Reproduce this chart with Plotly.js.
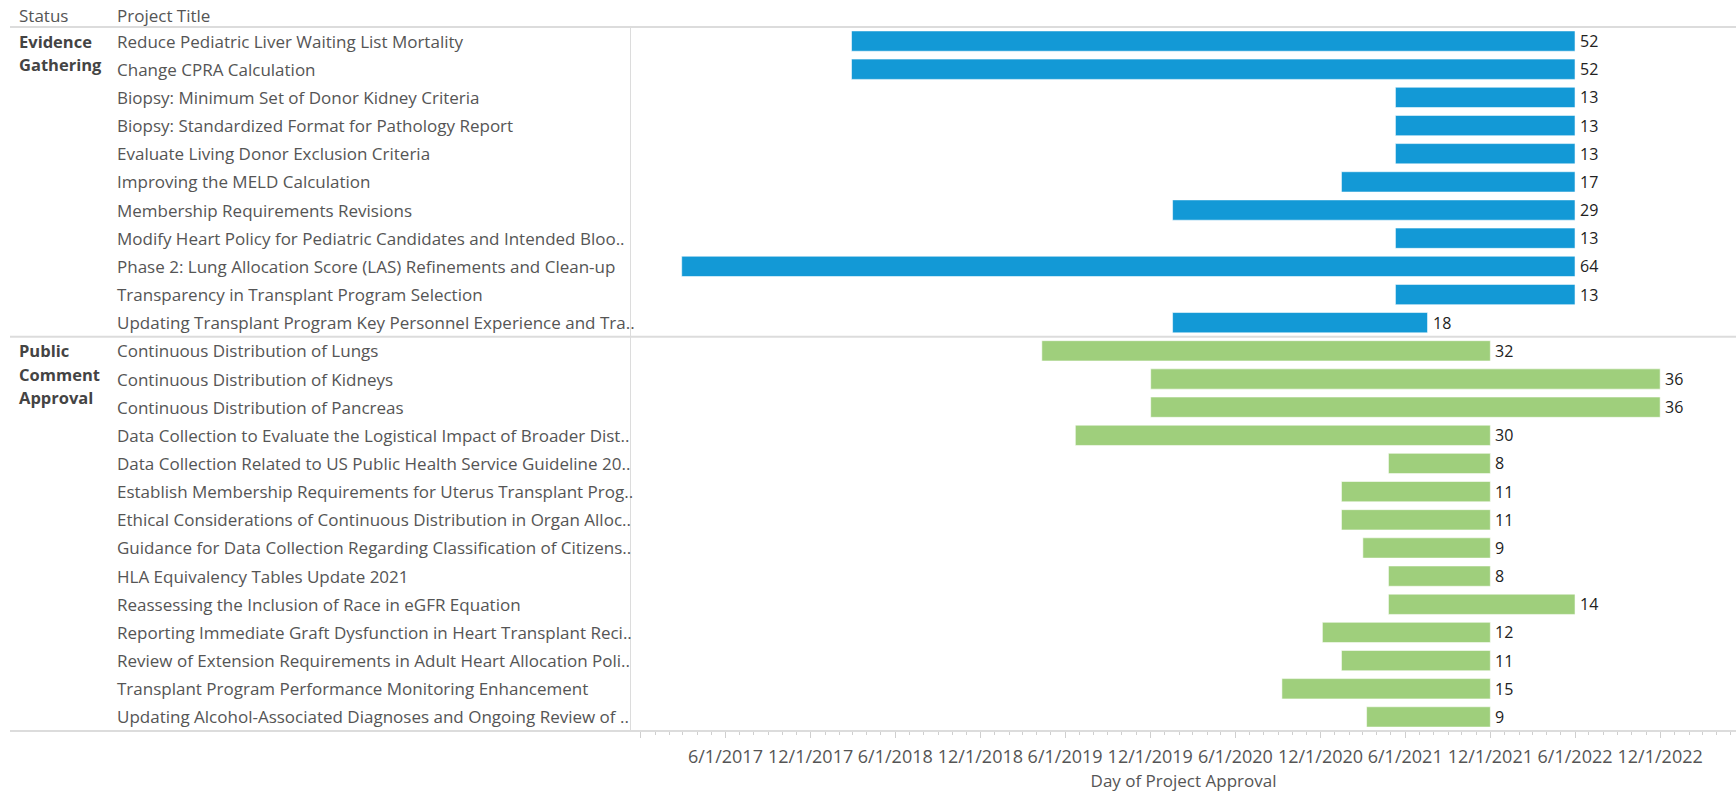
<!DOCTYPE html>
<html>
<head>
<meta charset="utf-8">
<script src="https://cdn.plot.ly/plotly-3.0.1.min.js"></script>
<style>
html, body { margin: 0; padding: 0; background: #ffffff; }
#chart { width: 1736px; height: 793px; }
</style>
</head>
<body>
<div id="chart"></div>
<script>
// ---------- data ----------
const statuses = ["Evidence Gathering", "Public Comment Approval"];

const egTitles = [
  "Reduce Pediatric Liver Waiting List Mortality",
  "Change CPRA Calculation",
  "Biopsy: Minimum Set of Donor Kidney Criteria",
  "Biopsy: Standardized Format for Pathology Report",
  "Evaluate Living Donor Exclusion Criteria",
  "Improving the MELD Calculation",
  "Membership Requirements Revisions",
  "Modify Heart Policy for Pediatric Candidates and Intended Bloo..",
  "Phase 2: Lung Allocation Score (LAS) Refinements and Clean-up",
  "Transparency in Transplant Program Selection",
  "Updating Transplant Program Key Personnel Experience and Tra.."
];
const egStart = ["2018-02-27","2018-02-27","2021-05-11","2021-05-11","2021-05-11","2021-01-15",
                 "2020-01-18","2021-05-11","2017-02-27","2021-05-11","2020-01-18"];
const egEnd   = ["2022-06-01","2022-06-01","2022-06-01","2022-06-01","2022-06-01","2022-06-01",
                 "2022-06-01","2022-06-01","2022-06-01","2022-06-01","2021-07-19"];
const egMonths = [52, 52, 13, 13, 13, 17, 29, 13, 64, 13, 18];

const pcTitles = [
  "Continuous Distribution of Lungs",
  "Continuous Distribution of Kidneys",
  "Continuous Distribution of Pancreas",
  "Data Collection to Evaluate the Logistical Impact of Broader Dist..",
  "Data Collection Related to US Public Health Service Guideline 20..",
  "Establish Membership Requirements for Uterus Transplant Prog..",
  "Ethical Considerations of Continuous Distribution in Organ Alloc..",
  "Guidance for Data Collection Regarding Classification of Citizens..",
  "HLA Equivalency Tables Update 2021",
  "Reassessing the Inclusion of Race in eGFR Equation",
  "Reporting Immediate Graft Dysfunction in Heart Transplant Reci..",
  "Review of Extension Requirements in Adult Heart Allocation Poli..",
  "Transplant Program Performance Monitoring Enhancement",
  "Updating Alcohol-Associated Diagnoses and Ongoing Review of .."
];
const pcStart = ["2019-04-12","2019-12-02","2019-12-02","2019-06-23","2021-04-26","2021-01-15","2021-01-15",
                 "2021-03-02","2021-04-26","2021-04-26","2020-12-05","2021-01-15","2020-09-09","2021-03-10"];
const pcEnd   = ["2021-12-01","2022-12-01","2022-12-01","2021-12-01","2021-12-01","2021-12-01","2021-12-01",
                 "2021-12-01","2021-12-01","2022-06-01","2021-12-01","2021-12-01","2021-12-01","2021-12-01"];
const pcMonths = [32, 36, 36, 30, 8, 11, 11, 9, 8, 14, 12, 11, 15, 9];

const tickDates  = ["2016-12-01","2017-06-01","2017-12-01","2018-06-01","2018-12-01","2019-06-01","2019-12-01",
                    "2020-06-01","2020-12-01","2021-06-01","2021-12-01","2022-06-01","2022-12-01"];
const tickLabels = ["","6/1/2017","12/1/2017","6/1/2018","12/1/2018","6/1/2019","12/1/2019",
                    "6/1/2020","12/1/2020","6/1/2021","12/1/2021","6/1/2022","12/1/2022"];

const headerLabels = ["Status", "Project Title"];
const axisTitle = "Day of Project Approval";

// ---------- styles ----------
const W = 1736, H = 793;
const FONT = "Open Sans, Noto Sans, sans-serif";
const blue = "#1399d6", green = "#9fcf7c";
const lineGray = "#dcdcdc";
const paneLeft = 631 / W;     // start of bar pane
const titleX = 115 / W;
const statusX = 17 / W;
const leftEdge = 10 / W;

function ms(d) { return Date.parse(d + "T00:00:00Z"); }
function durations(s, e) { return s.map((v, i) => ms(e[i]) - ms(v)); }

const allTitles = egTitles.concat(pcTitles);
const groups = [egTitles, pcTitles];

const traces = [
  { type: "bar", orientation: "h", y: egTitles, base: egStart, x: durations(egStart, egEnd),
    width: 0.72, marker: { color: blue, line: { color: "rgba(255,255,255,0.55)", width: 1 } }, hoverinfo: "skip" },
  { type: "bar", orientation: "h", y: pcTitles, base: pcStart, x: durations(pcStart, pcEnd),
    width: 0.72, marker: { color: green, line: { color: "rgba(255,255,255,0.55)", width: 1 } }, hoverinfo: "skip" }
];

const annotations = [];
allTitles.forEach(t => annotations.push({
  xref: "paper", x: titleX, xanchor: "left", yref: "y", y: t, yanchor: "middle",
  text: t, showarrow: false, font: { family: FONT, size: 17, color: "#555" }
}));
statuses.forEach((s, gi) => {
  s.split(" ").forEach((w, k) => annotations.push({
    xref: "paper", x: statusX, xanchor: "left", yref: "y", y: groups[gi][0], yanchor: "middle",
    yshift: -k * 23.3, text: w, showarrow: false,
    font: { family: FONT, size: 16.5, color: "#444", weight: "bold" }
  }));
});
[statusX, titleX].forEach((x, i) => annotations.push({
  xref: "paper", x: x, xanchor: "left", yref: "paper", y: 1, yanchor: "bottom", yshift: -2,
  text: headerLabels[i], showarrow: false, font: { family: FONT, size: 17, color: "#555" }
}));
// duration labels at bar ends
[[egTitles, egEnd, egMonths], [pcTitles, pcEnd, pcMonths]].forEach(([ts, ends, mos]) => {
  ts.forEach((t, i) => annotations.push({
    xref: "x", x: ends[i], xanchor: "left", xshift: 3, yref: "y", y: t, yanchor: "middle",
    text: String(mos[i]), showarrow: false, font: { family: FONT, size: 16, color: "#222" }
  }));
});

const shapes = [
  { type: "line", xref: "paper", x0: leftEdge, x1: 1, yref: "paper", y0: 1, y1: 1, line: { color: lineGray, width: 2 } },
  { type: "line", xref: "paper", x0: leftEdge, x1: 1, yref: "y", y0: egTitles.length - 0.5, y1: egTitles.length - 0.5, line: { color: lineGray, width: 2 } },
  { type: "line", xref: "paper", x0: leftEdge, x1: 1, yref: "paper", y0: 0, y1: 0, line: { color: lineGray, width: 2 } }
];

const layout = {
  width: W, height: H,
  margin: { l: 0, r: 0, t: 27, b: 62 },
  paper_bgcolor: "#ffffff", plot_bgcolor: "#ffffff",
  showlegend: false,
  font: { family: FONT, color: "#555" },
  barmode: "overlay",
  xaxis: {
    type: "date", domain: [paneLeft, 1], range: ["2016-11-10", "2023-05-13"],
    showgrid: false, zeroline: false,
    showline: true, linecolor: lineGray, linewidth: 1,
    tickmode: "array", tickvals: tickDates, ticktext: tickLabels,
    ticks: "outside", ticklen: 6, tickcolor: "#cfcfcf", tickwidth: 1,
    ticklabelstandoff: 3,
    tickfont: { family: FONT, size: 18, color: "#555" },
    minor: { tickmode: "linear", tick0: "2016-12-01", dtick: "M1", ticks: "outside", ticklen: 3, tickcolor: "#cfcfcf", showgrid: false },
    title: { text: axisTitle, font: { family: FONT, size: 17, color: "#555" }, standoff: 8 }
  },
  yaxis: {
    type: "category", categoryorder: "array", categoryarray: allTitles,
    range: [allTitles.length - 0.5, -0.5],
    showticklabels: false, showgrid: false, zeroline: false,
    showline: true, linecolor: lineGray, linewidth: 1, ticks: ""
  },
  annotations: annotations,
  shapes: shapes
};

Plotly.newPlot("chart", traces, layout, { displayModeBar: false, staticPlot: true });
</script>
</body>
</html>
